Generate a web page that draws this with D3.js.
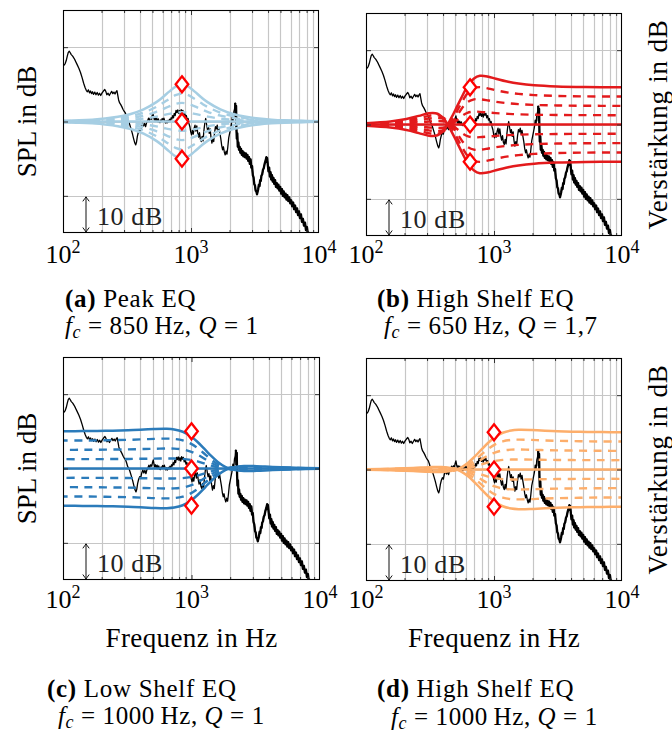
<!DOCTYPE html>
<html><head><meta charset="utf-8">
<script src="https://cdn.jsdelivr.net/npm/d3@7"></script>
<style>html,body{margin:0;padding:0;background:#fff;} svg{display:block;} text{font-family:"Liberation Serif","Times New Roman",serif;fill:#000;}</style>
</head><body><svg id="c" width="672" height="735" font-family="Liberation Serif"></svg>
<script>
// ---------------- DATA ----------------
// measured loudspeaker response [Hz, dB] (same curve in all four panels)
const measuredResponse = [
[100,14.9],[102,15.2],[104,15.6],[106,16.4],[108,17.6],[110,18.6],[112,18.9],[114,18.5],[116,18.0],[119,17.6],[122,17.0],[125,16.3],[129,15.3],[133,14.3],[137,13.2],[141,11.8],[145,10.3],[149,9.1],[152,8.4],[155,8.0],[158,8.5],[161,7.7],[164,8.2],[167,7.5],[170,8.0],[173,7.3],[177,7.9],[181,7.2],[185,7.8],[189,7.1],[193,7.6],[197,7.0],[202,7.7],[207,8.2],[212,8.6],[216,8.1],[220,7.2],[225,7.6],[230,7.0],[235,7.6],[240,8.1],[245,7.5],[250,7.9],[255,7.4],[260,8.0],[264,8.3],[268,7.0],[272,5.8],[277,5.0],[282,4.6],[288,4.0],[294,3.3],[300,2.8],[306,2.4],[312,1.6],[318,0.6],[325,0.1],[332,-0.8],[340,-2.0],[348,-3.2],[356,-4.6],[364,-5.8],[370,-6.3],[375,-5.6],[381,-4.0],[388,-2.9],[395,-2.2],[402,-2.6],[410,-1.2],[418,-0.4],[426,-1.2],[434,-0.5],[442,-1.4],[450,-0.3],[458,0.2],[466,0.9],[474,0.3],[482,1.0],[490,0.6],[497,1.6],[504,2.3],[511,1.2],[518,0.4],[525,1.0],[532,0.2],[540,0.9],[548,0.0],[556,0.7],[564,-0.2],[572,-0.3],[580,0.4],[588,0.1],[596,0.8],[605,0.4],[614,0.9],[623,0.2],[632,-0.4],[641,0.2],[650,-0.4],[660,0.3],[670,-0.1],[680,0.6],[690,0.2],[700,1.0],[710,0.7],[720,1.6],[730,1.0],[740,2.2],[752,1.6],[764,3.0],[776,2.4],[788,3.1],[800,2.2],[812,2.9],[825,2.0],[838,3.2],[851,2.5],[864,3.0],[878,1.8],[892,2.4],[906,1.2],[920,1.6],[935,0.4],[950,0.8],[965,-0.6],[980,-1.4],[995,-2.8],[1010,-3.6],[1026,-2.4],[1042,-3.4],[1058,-1.8],[1075,-1.0],[1092,-2.6],[1110,-1.2],[1128,-3.0],[1146,-4.2],[1165,-3.0],[1184,-4.8],[1203,-5.4],[1222,-4.0],[1242,-5.2],[1262,-2.4],[1282,-0.4],[1303,0.8],[1324,-0.8],[1345,-2.2],[1367,-1.4],[1389,-3.2],[1411,-2.0],[1434,-4.4],[1457,-5.8],[1480,-4.6],[1504,-5.4],[1528,-3.0],[1553,-1.4],[1578,-2.0],[1603,-1.0],[1629,-2.6],[1655,-1.6],[1682,-3.2],[1709,-4.6],[1736,-6.4],[1764,-7.6],[1792,-6.8],[1821,-8.2],[1850,-9.0],[1880,-8.0],[1910,-8.8],[1940,-6.8],[1971,-4.4],[2003,-3.2],[2035,-2.0],[2068,-0.8],[2100,1.2],[2130,0.0],[2160,2.6],[2190,3.4],[2215,5.0],[2235,1.0],[2250,4.2],[2265,-2.0],[2280,-4.6],[2300,-3.2],[2320,-6.8],[2345,-5.6],[2370,-7.6],[2400,-6.8],[2430,-8.4],[2460,-7.4],[2495,-9.0],[2530,-8.0],[2565,-9.4],[2600,-8.4],[2640,-9.6],[2680,-8.6],[2720,-10.0],[2760,-9.0],[2800,-10.6],[2840,-9.6],[2880,-11.4],[2920,-10.2],[2960,-12.4],[3000,-12.0],[3040,-14.4],[3080,-15.0],[3120,-16.8],[3160,-17.2],[3200,-18.6],[3240,-18.8],[3280,-19.6],[3310,-19.0],[3350,-18.2],[3390,-17.0],[3430,-17.4],[3470,-15.8],[3510,-16.0],[3550,-14.6],[3600,-14.2],[3650,-13.0],[3700,-12.6],[3760,-11.4],[3820,-10.6],[3880,-9.6],[3930,-9.8],[3980,-11.6],[4030,-13.4],[4080,-12.4],[4130,-14.8],[4180,-13.6],[4230,-15.6],[4290,-14.4],[4350,-16.2],[4410,-15.2],[4470,-16.8],[4540,-15.8],[4610,-17.6],[4680,-16.6],[4750,-18.0],[4820,-17.0],[4900,-18.6],[4980,-17.6],[5060,-19.4],[5140,-18.2],[5220,-20.0],[5300,-18.8],[5390,-20.4],[5480,-19.4],[5570,-21.0],[5660,-19.8],[5760,-21.4],[5860,-20.4],[5960,-22.0],[6060,-21.2],[6170,-22.8],[6280,-21.8],[6390,-23.6],[6500,-22.6],[6620,-24.4],[6740,-23.4],[6860,-25.2],[6980,-24.2],[7100,-26.0],[7230,-25.0],[7360,-27.0],[7490,-26.2],[7630,-28.0],[7770,-27.2],[7910,-29.2],[8050,-28.4],[8200,-30.4],[8350,-30.0],[8500,-31.4],[8700,-32.5]
];
const noisyFrom = 2200; // above this frequency the measurement is drawn as a thick noisy band

// (a) Peak EQ, fc = 850 Hz, Q = 1 : frequencies and gain curves (dB) for +2.5/+5/+7.5/+10 dB (negative gains mirror)
const peakFreqs   = [100,134.5,169.6,213.5,268.8,338.4,426,536.3,601.7,675.2,757.6,850,953.7,1070,1200.6,1347,1696,2135,2688,3384,4260,5363,7225,10000];
const peakGain10  = [0.17,0.31,0.50,0.79,1.26,2.03,3.26,5.21,6.53,8.03,9.40,10,9.40,8.03,6.53,5.21,3.26,2.03,1.26,0.79,0.50,0.31,0.17,0.09];
const peakGain7_5 = [0.12,0.22,0.35,0.55,0.89,1.46,2.39,3.92,4.95,6.08,7.08,7.5,7.08,6.08,4.95,3.92,2.39,1.46,0.89,0.55,0.35,0.22,0.12,0.06];
const peakGain5   = [0.08,0.14,0.22,0.35,0.57,0.94,1.57,2.62,3.32,4.09,4.74,5,4.74,4.09,3.32,2.62,1.57,0.94,0.57,0.35,0.22,0.14,0.08,0.04];
const peakGain2_5 = [0.04,0.07,0.11,0.17,0.28,0.46,0.78,1.31,1.67,2.05,2.37,2.5,2.37,2.05,1.67,1.31,0.78,0.46,0.28,0.17,0.11,0.07,0.04,0.02];

// (b) High Shelf EQ, fc = 650 Hz, Q = 1,7
const hsBFreqs   = [100,155,207,258.5,310,362,413.6,465,517,569,620,698,775.5,905,1034,1292.5,1551,2068,3102,5170,10000];
const hsBGain10  = [-0.36,-0.82,-1.48,-2.31,-3.03,-2.90,-1.12,1.83,5.0,7.88,10.21,12.38,13.11,12.87,12.31,11.49,11.02,10.56,10.25,10.09,10.02];
const hsBGain7_5 = [-0.26,-0.60,-1.09,-1.71,-2.33,-2.53,-1.53,0.83,3.75,6.41,8.37,9.80,10.06,9.67,9.21,8.59,8.25,7.91,7.68,7.56,7.52];
const hsBGain5   = [-0.17,-0.39,-0.71,-1.12,-1.57,-1.83,-1.39,0.18,2.5,4.62,6.00,6.77,6.79,6.45,6.12,5.71,5.49,5.27,5.12,5.04,5.01];
const hsBGain2_5 = [-0.08,-0.19,-0.35,-0.56,-0.79,-0.95,-0.81,-0.05,1.25,2.45,3.14,3.45,3.41,3.22,3.06,2.85,2.74,2.63,2.56,2.52,2.50];

// (c) Low Shelf / (d) High Shelf, fc = 1000 Hz, Q = 1 (same gain shapes, mirrored in frequency)
const lsCFreqs   = [10000,6410,4273,3205,2564,2137,1831,1602,1424,1282,1115,986,855,733,641,513,427,320.5,214,142,100];
const hsDFreqs   = [100,156,234,312,390,468,546,624,702,780,897,1014,1170,1365,1560,1950,2340,3120,4680,7020,10000];
const shelfGain10  = [-0.09,-0.20,-0.41,-0.62,-0.67,-0.37,0.45,1.77,3.37,5.0,7.13,8.68,9.89,10.51,10.67,10.62,10.49,10.30,10.14,10.06,10.03];
const shelfGain7_5 = [-0.06,-0.15,-0.31,-0.47,-0.54,-0.37,0.17,1.15,2.41,3.75,5.49,6.69,7.56,7.96,8.04,7.97,7.86,7.72,7.60,7.54,7.52];
const shelfGain5   = [-0.04,-0.10,-0.20,-0.31,-0.37,-0.29,0.03,0.67,1.54,2.5,3.74,4.56,5.11,5.34,5.37,5.31,5.24,5.15,5.07,5.03,5.02];
const shelfGain2_5 = [-0.02,-0.05,-0.10,-0.16,-0.19,-0.16,-0.01,0.30,0.75,1.25,1.90,2.31,2.58,2.68,2.69,2.66,2.62,2.57,2.53,2.51,2.51];

// control points (diamonds): centre frequency and gains
const centerFreqs   = [850, 650, 1000, 1000];
const markerGains   = [10, 0, -10];
const panelLetters  = ['a','b','c','d'];
const panelTitles   = ['Peak EQ','High Shelf EQ','Low Shelf EQ','High Shelf EQ'];
const qLabels       = ['1','1,7','1','1'];
const xTickValues   = [100, 1000, 10000];
const xTickExps     = ['2','3','4'];
const yGridValues   = [-20, 0, 20];
const scaleBarDB    = [-30, -20];

// ---------------- DRAWING ----------------
const svg = d3.select('#c');
const FONT = 27, CAPFONT = 25;
const panels = [
  {box:[63,319,10,233],  color:'#a6cee3', freqs:peakFreqs, gains:[peakGain2_5,peakGain5,peakGain7_5,peakGain10], left:true,  xlabel:false, tickY:263, cap:[65,307,65,334]},
  {box:[366,622,13,236], color:'#e31a1c', freqs:hsBFreqs,  gains:[hsBGain2_5,hsBGain5,hsBGain7_5,hsBGain10],     left:false, xlabel:false, tickY:263, cap:[377,307,384,334]},
  {box:[63,320,357,580], color:'#2b7bba', freqs:lsCFreqs,  gains:[shelfGain2_5,shelfGain5,shelfGain7_5,shelfGain10], left:true,  xlabel:true, tickY:608, cap:[47,697,58,724]},
  {box:[366,622,358,581],color:'#fdae6b', freqs:hsDFreqs,  gains:[shelfGain2_5,shelfGain5,shelfGain7_5,shelfGain10], left:false, xlabel:true, tickY:608, cap:[377,697,391,725]}
];
const defs = svg.append('defs');

panels.forEach((p, pi) => {
  const [x0,x1,y0,y1] = p.box;
  const x = d3.scaleLog().domain([100,10000]).range([x0,x1]);
  const y = d3.scaleLinear().domain([-30,30]).range([y1,y0]);
  const g = svg.append('g');
  const clipId = 'clip' + pi;
  defs.append('clipPath').attr('id', clipId).append('rect')
    .attr('x', x0).attr('y', y0).attr('width', x1-x0).attr('height', y1-y0);

  // grid
  const gridX = x.ticks().filter(v => v > 100 && v < 10000);
  g.selectAll('line.gx').data(gridX).join('line')
    .attr('x1', d => Math.round(x(d))+0.5).attr('x2', d => Math.round(x(d))+0.5)
    .attr('y1', y0).attr('y2', y1).attr('stroke', '#c6c6c6').attr('stroke-width', 1.2);
  g.selectAll('line.gy').data(yGridValues).join('line')
    .attr('y1', d => Math.round(y(d))+0.5).attr('y2', d => Math.round(y(d))+0.5)
    .attr('x1', x0).attr('x2', x1).attr('stroke', '#c6c6c6').attr('stroke-width', 1.2);

  // measured response
  const dataG = g.append('g').attr('clip-path', `url(#${clipId})`);
  const mLine = d3.line().x(d => x(d[0])).y(d => y(d[1]));
  dataG.append('path').datum(measuredResponse)
    .attr('d', mLine).attr('fill','none').attr('stroke','#000').attr('stroke-width',1.3).attr('stroke-linejoin','round');
  dataG.append('path').datum(measuredResponse.filter(d => d[0] >= noisyFrom))
    .attr('d', mLine).attr('fill','none').attr('stroke','#000').attr('stroke-width',2.3).attr('stroke-linejoin','round');

  // EQ curves
  const eqLine = d3.line().x(d => x(d[0])).y(d => y(d[1])).curve(d3.curveCatmullRom.alpha(0.5));
  const curves = [];
  p.gains.forEach((arr, i) => {
    [1,-1].forEach(s => curves.push({pts: p.freqs.map((f,k) => [f, s*arr[k]]), dashed: i < 3}));
  });
  curves.push({pts: p.freqs.map(f => [f, 0]), dashed:false});
  curves.sort((a,b) => (b.dashed?1:0) - (a.dashed?1:0));
  dataG.selectAll('path.eq').data(curves).join('path')
    .attr('d', d => eqLine(d.pts)).attr('fill','none').attr('stroke', p.color)
    .attr('stroke-width', d => d.dashed ? 2.4 : 2.5)
    .attr('stroke-dasharray', d => d.dashed ? '8,6.5' : null);

  // diamonds
  g.selectAll('path.dm').data(markerGains).join('path')
    .attr('transform', d => `translate(${x(centerFreqs[pi])},${y(d)})`)
    .attr('d', 'M0,-8L6.3,0L0,8L-6.3,0Z')
    .attr('fill','#fff').attr('stroke','#ff0000').attr('stroke-width',2.3);

  // ticks on box
  const tickG = g.append('g').attr('color','#333');
  const mk = (axis, tr) => { const a = tickG.append('g').attr('transform', tr).call(axis); a.select('.domain').remove(); a.selectAll('text').remove(); };
  mk(d3.axisBottom(x).tickValues(gridX.filter(v => v !== 1000)).tickSize(-3).tickFormat(''), `translate(0,${y1})`);
  mk(d3.axisTop(x).tickValues(gridX.filter(v => v !== 1000)).tickSize(-3).tickFormat(''), `translate(0,${y0})`);
  mk(d3.axisBottom(x).tickValues([1000]).tickSize(-5).tickFormat(''), `translate(0,${y1})`);
  mk(d3.axisTop(x).tickValues([1000]).tickSize(-5).tickFormat(''), `translate(0,${y0})`);
  mk(d3.axisLeft(y).tickValues(yGridValues).tickSize(-5).tickFormat(''), `translate(${x0},0)`);
  mk(d3.axisRight(y).tickValues(yGridValues).tickSize(-5).tickFormat(''), `translate(${x1},0)`);

  // frame
  g.append('rect').attr('x', x0+0.5).attr('y', y0+0.5).attr('width', x1-x0-1).attr('height', y1-y0-1)
    .attr('fill','none').attr('stroke','#000').attr('stroke-width',1.1);

  // 10 dB scale bar
  const ax = x0 + 23, ya = y(scaleBarDB[1]) + 1, yb = y(scaleBarDB[0]) - 1;
  const sb = g.append('g').attr('stroke','#111').attr('stroke-width',1).attr('fill','none');
  sb.append('line').attr('x1',ax).attr('x2',ax).attr('y1',ya).attr('y2',yb);
  sb.append('path').attr('d',`M${ax-3.2},${ya+4.5}Q${ax-0.8},${ya+1.2} ${ax},${ya}Q${ax+0.8},${ya+1.2} ${ax+3.2},${ya+4.5}`);
  sb.append('path').attr('d',`M${ax-3.2},${yb-4.5}Q${ax-0.8},${yb-1.2} ${ax},${yb}Q${ax+0.8},${yb-1.2} ${ax+3.2},${yb-4.5}`);
  g.append('text').attr('x', x0+34).attr('y', y1-8).attr('font-size',26).attr('letter-spacing',0.6).style('fill','#222')
    .text((scaleBarDB[1]-scaleBarDB[0]) + ' dB');

  // x tick labels
  xTickValues.forEach((v,i) => {
    const t = g.append('text').attr('x', x(v)).attr('y', p.tickY).attr('text-anchor','middle').attr('font-size',26);
    t.append('tspan').text('10');
    t.append('tspan').attr('dy',-10).attr('font-size',18).text(xTickExps[i]);
  });

  // axis labels
  const cy = (y0+y1)/2;
  if (p.left) {
    g.append('text').attr('transform', `translate(36,${cy}) rotate(-90)`).attr('text-anchor','middle')
      .attr('font-size',FONT).text('SPL in dB');
  } else {
    g.append('text').attr('transform', `translate(667,${cy}) rotate(-90)`).attr('text-anchor','middle')
      .attr('font-size',FONT).attr('letter-spacing',0.8).text('Verstärkung in dB');
  }
  if (p.xlabel) {
    g.append('text').attr('x', (x0+x1)/2).attr('y', 647).attr('text-anchor','middle')
      .attr('font-size',FONT).attr('letter-spacing',0.4).text('Frequenz in Hz');
  }

  // caption
  const [cx1, cy1, cx2, cy2] = p.cap;
  const t1 = svg.append('text').attr('x', cx1).attr('y', cy1).attr('font-size', CAPFONT).attr('letter-spacing', 0.7);
  t1.append('tspan').attr('font-weight','bold').text('(' + panelLetters[pi] + ')');
  t1.append('tspan').text(' ' + panelTitles[pi]);
  const t2 = svg.append('text').attr('x', cx2).attr('y', cy2).attr('font-size', CAPFONT).attr('letter-spacing', 0.6);
  t2.append('tspan').attr('font-style','italic').text('f');
  t2.append('tspan').attr('font-style','italic').attr('font-size',18).attr('dy',4).text('c');
  t2.append('tspan').attr('dy',-4).text(' = ' + centerFreqs[pi] + '\u2009Hz, ');
  t2.append('tspan').attr('font-style','italic').text('Q');
  t2.append('tspan').text(' = ' + qLabels[pi]);
});
</script></body></html>
